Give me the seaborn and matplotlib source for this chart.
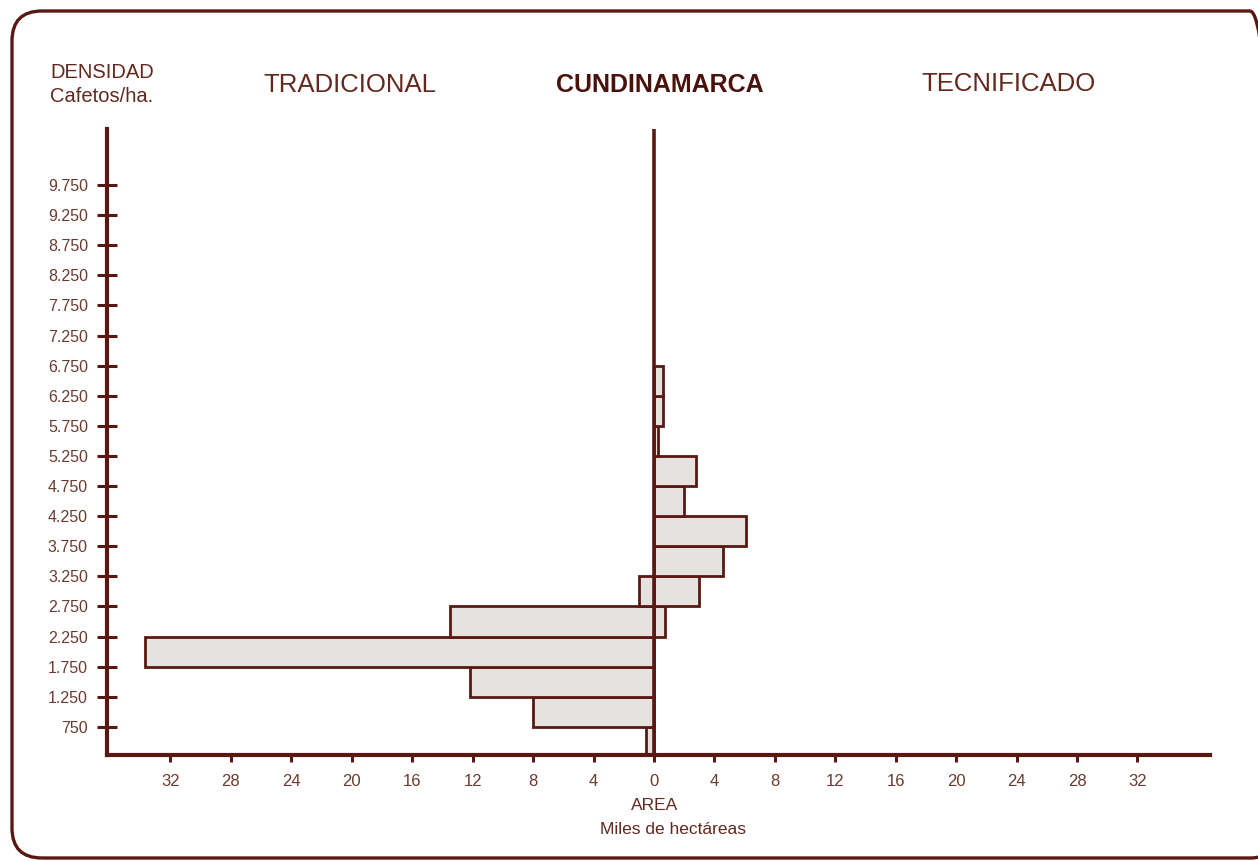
import matplotlib
matplotlib.use("Agg")
import matplotlib.pyplot as plt
import matplotlib.transforms as mtransforms
from matplotlib.patches import FancyBboxPatch
import seaborn as sns
import pandas as pd

# ---- data ----
density_bins = [500, 1000, 1500, 2000, 2500, 3000, 3500, 4000, 4500, 5000, 5500, 6000, 6500]
tradicional = [0.5, 8.0, 12.2, 33.7, 13.5, 1.0, 0, 0, 0, 0, 0, 0, 0]
tecnificado = [0, 0, 0, 0, 0.7, 3.0, 4.6, 6.1, 2.0, 2.75, 0.25, 0.6, 0.6]

y_ticks = [750, 1250, 1750, 2250, 2750, 3250, 3750, 4250, 4750, 5250,
           5750, 6250, 6750, 7250, 7750, 8250, 8750, 9250, 9750]
y_tick_labels = ["750", "1.250", "1.750", "2.250", "2.750", "3.250", "3.750",
                 "4.250", "4.750", "5.250", "5.750", "6.250", "6.750", "7.250",
                 "7.750", "8.250", "8.750", "9.250", "9.750"]
x_ticks = [-32, -28, -24, -20, -16, -12, -8, -4, 0, 4, 8, 12, 16, 20, 24, 28, 32]
x_tick_labels = ["32", "28", "24", "20", "16", "12", "8", "4", "0",
                 "4", "8", "12", "16", "20", "24", "28", "32"]

LINE = "#5a1812"
TEXT = "#62291f"
TICKTXT = "#6a3b2e"
DARK = "#4a120d"
FILL = "#e6e2df"

sns.set_theme(style="white")
plt.rcParams['font.family'] = ['Liberation Sans', 'DejaVu Sans']

W, H = 1258, 861
fig = plt.figure(figsize=(W / 100, H / 100), dpi=100)
fig.patch.set_facecolor("white")

ax_l, ax_r, ax_t, ax_b = 107, 1210, 129, 755
ax = fig.add_axes([ax_l / W, 1 - ax_b / H, (ax_r - ax_l) / W, (ax_b - ax_t) / H])
ax.set_facecolor("none")

df = pd.DataFrame({"densidad": density_bins, "trad": tradicional, "tec": tecnificado})
left = df[df.trad > 0].assign(area=lambda d: -d.trad)
right = df[df.tec > 0].assign(area=lambda d: d.tec)

for d in (left, right):
    sns.barplot(data=d, x="area", y="densidad", orient="y", native_scale=True,
                width=1.0, color=FILL, saturation=1, edgecolor=LINE,
                linewidth=2.0, errorbar=None, ax=ax, zorder=2)

ax.axvline(0, color=LINE, lw=2.6, zorder=3)

ax.set_xlim(-36.2, 36.8)
ax.set_ylim(283, 10680)
ax.set_xlabel("")
ax.set_ylabel("")
ax.grid(False)

ax.set_yticks(y_ticks)
ax.set_yticklabels(y_tick_labels)
ax.set_xticks(x_ticks)
ax.set_xticklabels(x_tick_labels)

for s in ("top", "right"):
    ax.spines[s].set_visible(False)
for s in ("left", "bottom"):
    ax.spines[s].set_color(LINE)
    ax.spines[s].set_linewidth(3)

ax.tick_params(axis="y", left=True, direction="inout", length=14.5, width=2.2,
               color=LINE, labelcolor=TICKTXT, labelsize=11.5, pad=6.5)
ax.tick_params(axis="x", bottom=True, direction="out", length=5, width=2.2,
               color=LINE, labelcolor=TICKTXT, labelsize=12, pad=9)

def ftext(x, y, s, **kw):
    fig.text(x / W, 1 - y / H, s, **kw)

ftext(50, 73, "DENSIDAD", ha="left", va="center", fontsize=14.5, color=TEXT)
ftext(50, 97, "Cafetos/ha.", ha="left", va="center", fontsize=14.5, color=TEXT)
ftext(350, 85, "TRADICIONAL", ha="center", va="center", fontsize=18.5, color=TEXT)
ftext(660, 85, "CUNDINAMARCA", ha="center", va="center", fontsize=18,
      fontweight="bold", color=DARK)
ftext(1008, 84, "TECNIFICADO", ha="center", va="center", fontsize=18.5, color=TEXT)
ftext(655, 806, "AREA", ha="center", va="center", fontsize=12.5, color=TEXT)
ftext(673, 829, "Miles de hectáreas", ha="center", va="center", fontsize=12.5, color=TEXT)

frame = FancyBboxPatch((12, H - 858), 1280 - 12, 858 - 11,
                       boxstyle="round,pad=0,rounding_size=30",
                       transform=mtransforms.IdentityTransform(),
                       facecolor="none", edgecolor=LINE, linewidth=2.4)
fig.add_artist(frame)

fig.savefig("out.png", dpi=100)
